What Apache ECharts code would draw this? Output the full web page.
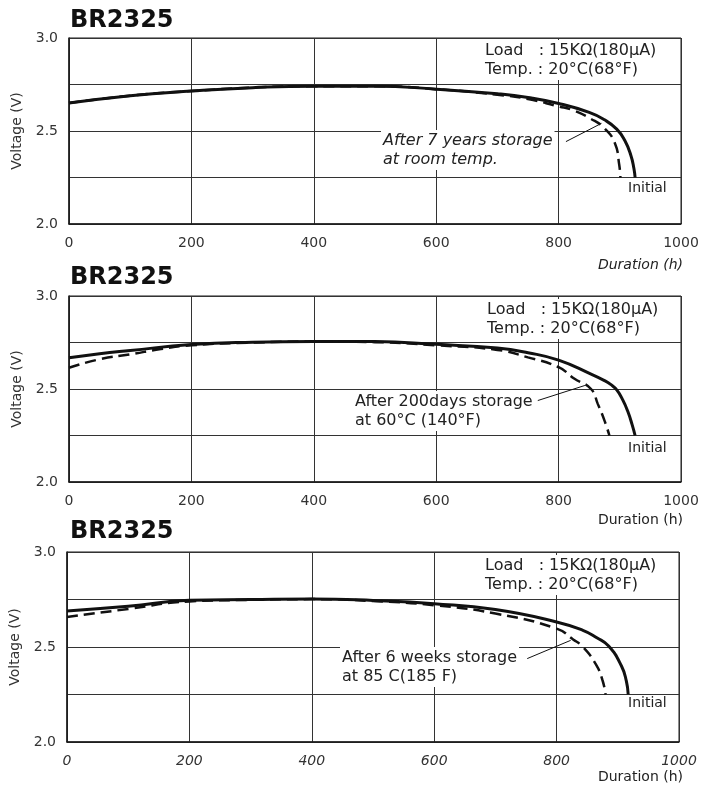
<!DOCTYPE html>
<html>
<head>
<meta charset="utf-8">
<script src="https://cdn.jsdelivr.net/npm/echarts@6/dist/echarts.min.js"></script>
<style>
  html, body { margin: 0; padding: 0; background: #fff; }
  #chart { width: 716px; height: 789px; }
</style>
</head>
<body>
<div id="chart"></div>
<script>
// panel 1 : 7 years storage at room temp
var hInit1 = [0, 100, 200, 300, 400, 500, 600, 700, 750, 800, 850, 875, 895, 908, 918, 923, 925];
var vInit1 = [2.65, 2.69, 2.715, 2.733, 2.741, 2.741, 2.725, 2.70, 2.68, 2.648, 2.60, 2.56, 2.51, 2.45, 2.37, 2.30, 2.25];
var hStor1 = [0, 100, 200, 300, 400, 500, 600, 700, 750, 800, 821, 853, 875, 892, 899, 901];
var vStor1 = [2.65, 2.69, 2.715, 2.733, 2.741, 2.741, 2.725, 2.695, 2.672, 2.632, 2.615, 2.565, 2.514, 2.434, 2.32, 2.25];

// panel 2 : 200 days at 60C
var hInit2 = [0, 50, 100, 200, 300, 400, 500, 600, 700, 750, 800, 853, 875, 885, 895, 905, 913, 920, 925];
var vInit2 = [2.668, 2.69, 2.707, 2.739, 2.752, 2.756, 2.755, 2.74, 2.72, 2.695, 2.655, 2.58, 2.545, 2.525, 2.495, 2.44, 2.38, 2.31, 2.25];
var hStor2 = [0, 50, 100, 150, 200, 300, 400, 500, 600, 700, 750, 800, 826, 853, 864, 875, 883];
var vStor2 = [2.614, 2.66, 2.686, 2.715, 2.735, 2.75, 2.755, 2.752, 2.735, 2.71, 2.67, 2.617, 2.555, 2.50, 2.42, 2.33, 2.25];

// panel 3 : 6 weeks at 85C
var hInit3 = [0, 100, 200, 300, 400, 500, 600, 700, 800, 843, 865, 885, 906, 914, 917];
var vInit3 = [2.69, 2.714, 2.746, 2.75, 2.753, 2.745, 2.728, 2.697, 2.632, 2.588, 2.55, 2.505, 2.40, 2.32, 2.25];
var hStor3 = [0, 100, 200, 300, 400, 500, 600, 700, 800, 827, 843, 864, 875, 880];
var vStor3 = [2.658, 2.70, 2.74, 2.748, 2.752, 2.742, 2.72, 2.676, 2.597, 2.54, 2.50, 2.41, 2.325, 2.25];

// leader lines [hours, volts] from label to curve
var leader1 = [[812, 2.443], [870, 2.541]];
var leader2 = [[766, 2.438], [843, 2.519]];
var leader3 = [[752, 2.439], [823, 2.535]];

var titles = ['BR2325', 'BR2325', 'BR2325'];
var storageText = [
  ['After 7 years storage', 'at room temp.'],
  ['After 200days storage', 'at 60°C (140°F)'],
  ['After 6 weeks storage', 'at 85 C(185 F)']
];
var loadText = ['Load   : 15KΩ(180μA)', 'Temp. : 20°C(68°F)'];

function zip(h, v) {
  return h.map(function (x, i) { return [x, v[i]]; });
}

var FONT = 'DejaVu Sans';
var ink = '#1a1a1a';

var grids = [
  { left: 69, top: 38, width: 612, height: 186 },
  { left: 69, top: 296, width: 612, height: 186 },
  { left: 67, top: 552, width: 612, height: 190 }
];
var italicX = [false, false, true];

var xAxes = [], yAxes = [], series = [];
grids.forEach(function (g, i) {
  g.show = true;
  g.borderColor = ink;
  g.borderWidth = 1;
  g.containLabel = false;
  xAxes.push({
    type: 'value', gridIndex: i, min: 0, max: 1000, interval: 200,
    axisLine: { lineStyle: { color: ink, width: 1.5 } },
    axisTick: { show: false },
    splitLine: { lineStyle: { color: '#333', width: 1 } },
    axisLabel: { margin: 12, fontSize: 14, color: '#333', fontFamily: FONT,
                 fontStyle: italicX[i] ? 'italic' : 'normal',
                 formatter: function (v) { return String(v); } }
  });
  yAxes.push({
    type: 'value', gridIndex: i, min: 2, max: 3, interval: 0.25,
    name: 'Voltage (V)', nameLocation: 'middle', nameGap: 44,
    nameTextStyle: { fontSize: 14, color: '#333', fontFamily: FONT },
    axisLine: { show: true, lineStyle: { color: ink, width: 1.5 } },
    axisTick: { show: false },
    splitLine: { lineStyle: { color: '#333', width: 1 } },
    axisLabel: {
      margin: 11, fontSize: 14, color: '#333', fontFamily: FONT,
      formatter: function (v) { return Math.round(v * 4) % 2 === 0 ? v.toFixed(1) : ''; }
    }
  });
});

var curves = [
  [zip(hInit1, vInit1), zip(hStor1, vStor1), leader1],
  [zip(hInit2, vInit2), zip(hStor2, vStor2), leader2],
  [zip(hInit3, vInit3), zip(hStor3, vStor3), leader3]
];
curves.forEach(function (c, i) {
  series.push({
    name: 'Initial', type: 'line', xAxisIndex: i, yAxisIndex: i,
    data: c[0], showSymbol: false, smooth: 0.5,
    lineStyle: { color: '#111', width: 3 }, silent: true
  });
  series.push({
    name: 'Storage', type: 'line', xAxisIndex: i, yAxisIndex: i,
    data: c[1], showSymbol: false, smooth: 0.5,
    lineStyle: { color: '#111', width: 2.5, type: [11, 6] }, silent: true,
    markLine: {
      silent: true, symbol: ['none', 'none'], label: { show: false },
      lineStyle: { color: '#111', width: 1, type: 'solid' },
      data: [[{ coord: c[2][0] }, { coord: c[2][1] }]]
    }
  });
});

function txt(x, y, text, opt) {
  opt = opt || {};
  return {
    type: 'text', x: x, y: y, z: 50, silent: true,
    style: {
      text: text,
      font: (opt.style || 'normal') + ' ' + (opt.weight || 'normal') + ' ' + (opt.size || 15) + 'px "' + FONT + '"',
      fill: opt.color || '#222',
      align: opt.align || 'left',
      verticalAlign: 'middle',
      lineHeight: opt.lh || 18,
      backgroundColor: opt.bg || null,
      padding: opt.bg ? [1, 2, 1, 2] : 0
    }
  };
}

var graphics = [];
var loadY = [60, 319, 575];
var loadX = [483, 485, 483];
var storX = [381, 353, 340];
var storY = [150, 411, 667];
var initY = [188, 448, 703];
var durY = [265, 520, 777];
var durItalic = [true, false, false];
for (var i = 0; i < 3; i++) {
  graphics.push(txt(loadX[i], loadY[i], loadText.join('\n'), { size: 16, bg: '#fff', lh: 19 }));
  graphics.push(txt(storX[i], storY[i], storageText[i].join('\n'),
    { size: 16, style: i === 0 ? 'italic' : 'normal', bg: '#fff', lh: 19 }));
  graphics.push(txt(628, initY[i], 'Initial', { size: 14 }));
  graphics.push(txt(683, durY[i], 'Duration (h)', { size: 14, align: 'right', style: durItalic[i] ? 'italic' : 'normal' }));
}

var chart = echarts.init(document.getElementById('chart'));
chart.setOption({
  backgroundColor: '#fff',
  animation: false,
  title: [
    { text: titles[0], left: 70, top: 9, padding: 0 },
    { text: titles[1], left: 70, top: 266, padding: 0 },
    { text: titles[2], left: 70, top: 520, padding: 0 }
  ].map(function (t) {
    t.textStyle = { fontFamily: FONT, fontWeight: 'bold', fontSize: 24, color: '#111' };
    return t;
  }),
  grid: grids,
  xAxis: xAxes,
  yAxis: yAxes,
  series: series,
  graphic: graphics
});
</script>
</body>
</html>
